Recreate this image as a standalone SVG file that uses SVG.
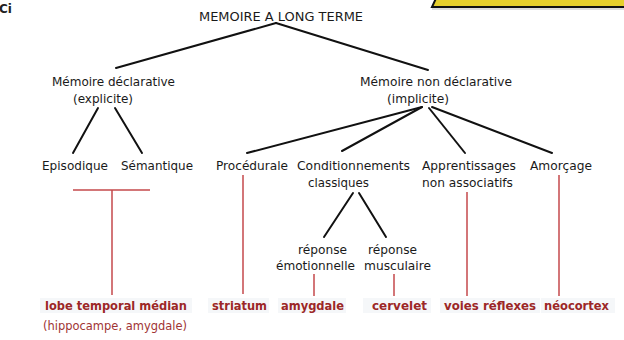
<svg xmlns="http://www.w3.org/2000/svg" width="624" height="340" viewBox="0 0 624 340">
  <style>
    text { font-family: "DejaVu Sans", "Liberation Sans", sans-serif; }
    .lbl { font-size: 12.8px; fill: #1a1a1a; text-anchor: middle; }
    .title { font-size: 13px; fill: #1a1a1a; text-anchor: middle; }
    .area { font-size: 12.8px; font-weight: bold; fill: #9c2727; text-anchor: middle; }
    .sub { font-size: 12.5px; fill: #a03434; text-anchor: middle; }
    .tree { stroke: #111; stroke-width: 2; fill: none; stroke-linecap: round; }
    .link { stroke: #c5484b; stroke-width: 1.5; fill: none; }
    .band { fill: #f5f7f9; }
  </style>

  <rect width="624" height="340" fill="#ffffff"/>

  <!-- clipped fragments at the page edges -->
  <text x="-1" y="13" font-size="12" font-weight="bold" fill="#222">Ci</text>
  <polygon points="438,-6 630,-6 630,7 432,7" fill="#e6cf2c" stroke="#111" stroke-width="2"/>
  <line x1="432" y1="9" x2="624" y2="9" stroke="#bbb" stroke-width="1"/>

  <!-- connectors -->
  <g id="connectors">
    <line class="tree" x1="276" y1="23" x2="116" y2="68"/>
    <line class="tree" x1="276" y1="23" x2="428" y2="70"/>
    <line class="tree" x1="98" y1="108" x2="73" y2="153"/>
    <line class="tree" x1="115" y1="108" x2="142" y2="153"/>
    <line class="tree" x1="422" y1="107" x2="247" y2="153"/>
    <line class="tree" x1="422" y1="107" x2="342" y2="151"/>
    <line class="tree" x1="429" y1="108" x2="465" y2="153"/>
    <line class="tree" x1="432" y1="107" x2="552" y2="153"/>
    <line class="tree" x1="353" y1="193" x2="324" y2="237"/>
    <line class="tree" x1="359" y1="193" x2="386" y2="237"/>

    <line class="link" x1="73" y1="190" x2="150" y2="190"/>
    <line class="link" x1="112" y1="190" x2="112" y2="295"/>
    <line class="link" x1="243" y1="175" x2="243" y2="294"/>
    <line class="link" x1="314" y1="274" x2="314" y2="296"/>
    <line class="link" x1="394" y1="274" x2="394" y2="296"/>
    <line class="link" x1="467" y1="192" x2="467" y2="296"/>
    <line class="link" x1="559" y1="175" x2="559" y2="296"/>
  </g>

  <g id="n-memoire-long-terme">
    <text class="title" x="281" y="21" textLength="164" lengthAdjust="spacingAndGlyphs">MEMOIRE A LONG TERME</text>
  </g>

  <g id="n-declarative">
    <text class="lbl" x="113.5" y="86" textLength="123" lengthAdjust="spacingAndGlyphs">Mémoire déclarative</text>
    <text class="lbl" x="103" y="103" textLength="60" lengthAdjust="spacingAndGlyphs">(explicite)</text>
  </g>

  <g id="n-non-declarative">
    <text class="lbl" x="436" y="86" textLength="152" lengthAdjust="spacingAndGlyphs">Mémoire non déclarative</text>
    <text class="lbl" x="418" y="103" textLength="62" lengthAdjust="spacingAndGlyphs">(implicite)</text>
  </g>

  <g id="n-episodique">
    <text class="lbl" x="75" y="170" textLength="66" lengthAdjust="spacingAndGlyphs">Episodique</text>
  </g>
  <g id="n-semantique">
    <text class="lbl" x="157" y="170" textLength="72" lengthAdjust="spacingAndGlyphs">Sémantique</text>
  </g>
  <g id="n-procedurale">
    <text class="lbl" x="252" y="170" textLength="72" lengthAdjust="spacingAndGlyphs">Procédurale</text>
  </g>
  <g id="n-conditionnements">
    <text class="lbl" x="353.5" y="170" textLength="113" lengthAdjust="spacingAndGlyphs">Conditionnements</text>
    <text class="lbl" x="338.5" y="187" textLength="61" lengthAdjust="spacingAndGlyphs">classiques</text>
  </g>
  <g id="n-apprentissages">
    <text class="lbl" x="469" y="170" textLength="94" lengthAdjust="spacingAndGlyphs">Apprentissages</text>
    <text class="lbl" x="467.5" y="187" textLength="91" lengthAdjust="spacingAndGlyphs">non associatifs</text>
  </g>
  <g id="n-amorcage">
    <text class="lbl" x="561" y="170" textLength="62" lengthAdjust="spacingAndGlyphs">Amorçage</text>
  </g>
  <g id="n-reponse-emotionnelle">
    <text class="lbl" x="322.5" y="254" textLength="49" lengthAdjust="spacingAndGlyphs">réponse</text>
    <text class="lbl" x="315.5" y="270" textLength="79" lengthAdjust="spacingAndGlyphs">émotionnelle</text>
  </g>
  <g id="n-reponse-musculaire">
    <text class="lbl" x="392.5" y="254" textLength="49" lengthAdjust="spacingAndGlyphs">réponse</text>
    <text class="lbl" x="397.5" y="270" textLength="67" lengthAdjust="spacingAndGlyphs">musculaire</text>
  </g>

  <!-- brain areas -->
  <g id="n-lobe-temporal">
    <rect class="band" x="40" y="298" width="152" height="15"/>
    <text class="area" x="116" y="310" textLength="142" lengthAdjust="spacingAndGlyphs">lobe temporal médian</text>
    <text class="sub" x="115" y="330" textLength="144" lengthAdjust="spacingAndGlyphs">(hippocampe, amygdale)</text>
  </g>
  <g id="n-striatum">
    <rect class="band" x="208" y="298" width="61" height="15"/>
    <text class="area" x="239.5" y="310" textLength="55" lengthAdjust="spacingAndGlyphs">striatum</text>
  </g>
  <g id="n-amygdale">
    <rect class="band" x="278" y="298" width="68" height="15"/>
    <text class="area" x="312.5" y="310" textLength="63" lengthAdjust="spacingAndGlyphs">amygdale</text>
  </g>
  <g id="n-cervelet">
    <rect class="band" x="363" y="298" width="68" height="15"/>
    <text class="area" x="399.5" y="310" textLength="55" lengthAdjust="spacingAndGlyphs">cervelet</text>
  </g>
  <g id="n-voies-reflexes">
    <rect class="band" x="440" y="298" width="100" height="15"/>
    <text class="area" x="490" y="310" textLength="92" lengthAdjust="spacingAndGlyphs">voies réflexes</text>
  </g>
  <g id="n-neocortex">
    <rect class="band" x="541" y="298" width="74" height="15"/>
    <text class="area" x="576.5" y="310" textLength="65" lengthAdjust="spacingAndGlyphs">néocortex</text>
  </g>
</svg>
